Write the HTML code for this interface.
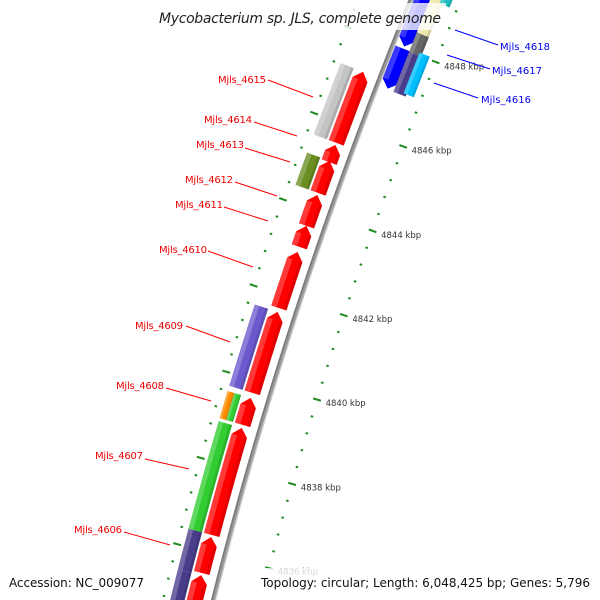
<!DOCTYPE html>
<html><head><meta charset="utf-8"><style>
html,body{margin:0;padding:0;background:#fff;width:600px;height:600px;overflow:hidden;}
svg{display:block;font-family:"DejaVu Sans","Liberation Sans",sans-serif;overflow:hidden;}
</style></head><body>
<svg id="map" width="600" height="600" viewBox="0 0 600 600" xmlns="http://www.w3.org/2000/svg">
<g id="ticks"></g>
<g id="feats"></g>
<g id="backbone"></g>
<g id="labels">
<line x1="268" y1="80" x2="313" y2="97" stroke="#f00"/>
<text x="266" y="83" text-anchor="end" font-size="10" fill="#e00" textLength="48">Mjls_4615</text>
<line x1="254" y1="122" x2="297" y2="136" stroke="#f00"/>
<text x="252" y="123" text-anchor="end" font-size="10" fill="#e00" textLength="48">Mjls_4614</text>
<line x1="245" y1="148" x2="290" y2="162" stroke="#f00"/>
<text x="244" y="148" text-anchor="end" font-size="10" fill="#e00" textLength="48">Mjls_4613</text>
<line x1="235" y1="182" x2="277" y2="196" stroke="#f00"/>
<text x="233" y="183" text-anchor="end" font-size="10" fill="#e00" textLength="48">Mjls_4612</text>
<line x1="224" y1="207" x2="268" y2="221" stroke="#f00"/>
<text x="223" y="208" text-anchor="end" font-size="10" fill="#e00" textLength="48">Mjls_4611</text>
<line x1="208" y1="251" x2="253" y2="267" stroke="#f00"/>
<text x="207" y="253" text-anchor="end" font-size="10" fill="#e00" textLength="48">Mjls_4610</text>
<line x1="186" y1="326" x2="230" y2="342" stroke="#f00"/>
<text x="183" y="329" text-anchor="end" font-size="10" fill="#e00" textLength="48">Mjls_4609</text>
<line x1="166" y1="388" x2="211" y2="401" stroke="#f00"/>
<text x="164" y="389" text-anchor="end" font-size="10" fill="#e00" textLength="48">Mjls_4608</text>
<line x1="145" y1="459" x2="189" y2="469" stroke="#f00"/>
<text x="143" y="459" text-anchor="end" font-size="10" fill="#e00" textLength="48">Mjls_4607</text>
<line x1="124" y1="532" x2="170" y2="545" stroke="#f00"/>
<text x="122" y="533" text-anchor="end" font-size="10" fill="#e00" textLength="48">Mjls_4606</text>
<line x1="455" y1="30" x2="498" y2="45" stroke="#00f"/>
<text x="500" y="50" font-size="10" fill="#00e" textLength="50">Mjls_4618</text>
<line x1="447" y1="55" x2="490" y2="69" stroke="#00f"/>
<text x="492" y="74" font-size="10" fill="#00e" textLength="50">Mjls_4617</text>
<line x1="434" y1="83" x2="478" y2="98" stroke="#00f"/>
<text x="481" y="103" font-size="10" fill="#00e" textLength="50">Mjls_4616</text>
</g>
<rect x="152" y="3" width="294" height="27" fill="#fff" fill-opacity="0.78"/>
<text x="159" y="23" font-size="14" font-style="italic" fill="#222" textLength="282">Mycobacterium sp. JLS, complete genome</text>
<rect x="5" y="570" width="145" height="26" fill="#fff" fill-opacity="0.8"/>
<text x="9" y="587" font-size="12" fill="#111" textLength="135">Accession: NC_009077</text>
<rect x="257" y="568" width="340" height="30" fill="#fff" fill-opacity="0.8"/>
<text x="261" y="587" font-size="12" fill="#111" textLength="329">Topology: circular; Length: 6,048,425 bp; Genes: 5,796</text>
</svg>
<script>
// ---- data (kbp) ----
const fwdStarts = [4845.56, 4845.11, 4844.39, 4843.62, 4843.13, 4841.70, 4839.72, 4838.97, 4836.40, 4835.51, 4833.90];
const fwdEnds   = [4847.22, 4845.51, 4845.14, 4844.34, 4843.62, 4843.01, 4841.61, 4839.60, 4838.90, 4836.35, 4835.46];
const cogStarts = [4845.56, 4844.39, 4839.72, 4836.40, 4835.46, 4833.90];
const cogEnds   = [4847.22, 4845.14, 4841.61, 4838.90, 4836.40, 4835.46];
const cogColors = ["#c4c4c4", "#6b8e23", "#6a5acd", "#32cd32", "#483d8b", "#483d8b"];
const splitStarts = [4838.97, 4838.97];
const splitEnds   = [4839.60, 4839.60];
const splitColors = ["#ff8c00", "#32cd32"];
const revStarts = [4848.06, 4847.07];
const revEnds   = [4850.30, 4848.01];
const revCogStarts = [4848.45, 4847.99, 4847.05];
const revCogEnds   = [4850.30, 4848.45, 4847.99];
const revCogColors = ["#eee8aa", "#666666", "#483d8b"];
const rev2Starts = [4847.10, 4849.22];
const rev2Ends   = [4848.06, 4850.30];
const rev2Colors = ["#00bfff", "#20c0c0"];
const tickStart = 4833.6, tickEnd = 4850.4, tickStep = 0.4;
const kbpLabels = [4836, 4838, 4840, 4842, 4844, 4846, 4848];

// ---- geometry ----
const NS = "http://www.w3.org/2000/svg";
function C(y){return 391.6-0.4063*y+0.0001308*y*y;}
function D(y){return -0.4063+0.0002616*y;}
function P(yc,off){const d=D(yc),n=Math.hypot(1,d);return [C(yc)+off/n, yc-d*off/n];}
function yOf(k){return 124+(4846-k)*42.8;}
function edge(y1,y2,off){const pts=[];const N=6;for(let i=0;i<=N;i++){pts.push(P(y1+(y2-y1)*i/N,off));}return pts;}
function mk(tag,attrs,parent){const e=document.createElementNS(NS,tag);for(const k in attrs)e.setAttribute(k,attrs[k]);parent.appendChild(e);return e;}
function ptsStr(a){return a.map(p=>p[0].toFixed(2)+","+p[1].toFixed(2)).join(" ");}

const feats=document.getElementById("feats");
function bar(kLow,kHigh,off,w,color,arrow,name){
  const yt=yOf(kHigh), yb=yOf(kLow);
  const h=arrow?Math.min(8,(yb-yt)*0.45):0;
  const l=off-w/2, r=off+w/2;
  let pts;
  if(arrow==="up"){pts=[...edge(yb,yt+h,l),P(yt,off),...edge(yt+h,yb,r)];}
  else if(arrow==="down"){pts=[...edge(yt,yb-h,l),P(yb,off),...edge(yb-h,yt,r)];}
  else{pts=[...edge(yb,yt,l),...edge(yt,yb,r)];}
  const g=mk("g",{},feats);
  
  
  mk("polygon",{points:ptsStr(pts),fill:color},g);
  const a=arrow==="up"?yt+h:yt, b=arrow==="down"?yb-h:yb;
  mk("polygon",{points:ptsStr([...edge(b,a,l),...edge(a,b,l+w*0.35)]),fill:"#fff","fill-opacity":"0.22"},g);
  mk("polygon",{points:ptsStr([...edge(b,a,r-w*0.2),...edge(a,b,r)]),fill:"#000","fill-opacity":"0.12"},g);
}
fwdStarts.forEach((s,i)=>bar(s,fwdEnds[i],0,16,"#ff0000","up","forward-gene-"+i));
cogStarts.forEach((s,i)=>bar(s,cogEnds[i],-17,14,cogColors[i],null,"cog-bar-"+i));
splitStarts.forEach((s,i)=>bar(s,splitEnds[i],i===0?-20.5:-13.5,7,splitColors[i],null,"cog-split-"+i));
revStarts.forEach((s,i)=>bar(s,revEnds[i],29,18,"#0000ff","down","reverse-gene-"+i));
revCogStarts.forEach((s,i)=>bar(s,revCogEnds[i],42,13,revCogColors[i],null,"reverse-cog-"+i));
rev2Starts.forEach((s,i)=>bar(s,rev2Ends[i],51,11,rev2Colors[i],null,"reverse-track2-"+i));

// backbone
const bb=document.getElementById("backbone");
function curve(off){const p=[];for(let y=-20;y<=620;y+=10)p.push(P(y,off));return "M"+p.map(q=>q[0].toFixed(2)+" "+q[1].toFixed(2)).join(" L");}
const b1=mk("path",{d:curve(18),stroke:"#9a9a9a","stroke-width":"5",fill:"none"},bb);


const b2=mk("path",{d:curve(16.5),stroke:"#7a7a7a","stroke-width":"1.5",fill:"none"},bb);


const b3=mk("path",{d:curve(20),stroke:"#d0d0d0","stroke-width":"1.2",fill:"none"},bb);



// ticks
const tk=document.getElementById("ticks");
const nT=Math.round((tickEnd-tickStart)/tickStep);
for(let i=0;i<=nT;i++){
  const k=tickStart+i*tickStep, yc=yOf(k);
  const major=Math.abs(k/2-Math.round(k/2))<0.01;
  const L=major?8:2.5;
  [-31,64].forEach(off=>{
    const a=P(yc,off-L/2), b=P(yc,off+L/2);
    const ln=mk("line",{x1:a[0],y1:a[1],x2:b[0],y2:b[1],stroke:"#1f8a1f","stroke-width":"2"},tk);
    
    
  });
}
kbpLabels.forEach(k=>{
  const p=P(yOf(k),73);
  const t=mk("text",{x:p[0].toFixed(1),y:(p[1]+4).toFixed(1),"font-size":"8.5",fill:"#333"},tk);
  t.textContent=k+" kbp";
  
  
});
</script>
</body></html>
